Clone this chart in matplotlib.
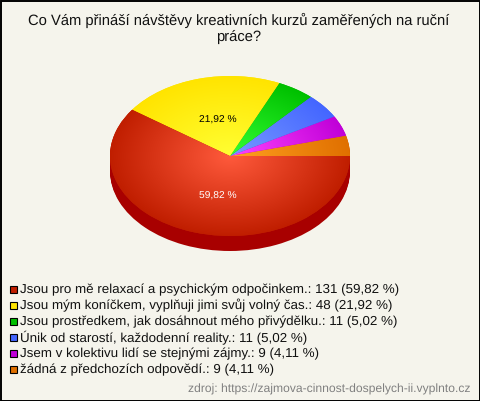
import numpy as np
import matplotlib
matplotlib.use("Agg")
import matplotlib.pyplot as plt
from matplotlib.patches import Rectangle

plt.rcParams['font.family'] = ['Liberation Sans', 'DejaVu Sans']
plt.rcParams['text.hinting'] = 'no_hinting'
plt.rcParams['text.hinting_factor'] = 8

W, H = 480, 401
BG = "#f5f4ec"

title_lines = ["Co Vám přináší návštěvy kreativních kurzů zaměřených na ruční", "práce?"]
source = "zdroj: https://zajmova-cinnost-dospelych-ii.vyplnto.cz"

answers = ["Jsou pro mě relaxací a psychickým odpočinkem",
           "Jsou mým koníčkem, vyplňuji jimi svůj volný čas",
           "Jsou prostředkem, jak dosáhnout mého přivýdělku",
           "Únik od starostí, každodenní reality",
           "Jsem v kolektivu lidí se stejnými zájmy",
           "žádná z předchozích odpovědí"]
counts = [131, 48, 11, 11, 9, 9]
percents = ["59,82", "21,92", "5,02", "5,02", "4,11", "4,11"]

# edge and centre colours of each slice
edge_cols = ["#c01e00", "#ffe400", "#00c000", "#4466ff", "#c000d8", "#e07000"]
mid_cols = ["#ff5a3c", "#ffff33", "#33ff33", "#7799ff", "#ff44ff", "#ffa020"]
legend_cols = ["#c01e00", "#ffe400", "#00c000", "#4466ff", "#c000d8", "#e07000"]
side_col = "#a80000"

fig = plt.figure(figsize=(W / 100, H / 100), dpi=100, facecolor=BG)


def px_axes(cx, cy, rx, ry):
    return [(cx - rx) / W, 1 - (cy + ry) / H, 2 * rx / W, 2 * ry / H]


# dark side of the pie, one ellipse per pixel of depth
depth = 15
for d in range(depth, 0, -1):
    ax_s = fig.add_axes(px_axes(230, 156 + d, 120, 80))
    ax_s.pie([1], colors=[side_col], radius=1, wedgeprops=dict(linewidth=0))
    ax_s.set_aspect("auto")
    ax_s.set_xlim(-1, 1)
    ax_s.set_ylim(-1, 1)

ax = fig.add_axes(px_axes(230, 156, 120, 80))
# pie goes counterclockwise from the east, last answer first
wedges, _ = ax.pie(counts[::-1], colors=edge_cols[::-1], startangle=0,
                   counterclock=True, radius=1, wedgeprops=dict(linewidth=0))
ax.set_aspect("auto")
ax.set_xlim(-1, 1)
ax.set_ylim(-1, 1)

gx, gy = np.meshgrid(np.linspace(-1, 1, 300), np.linspace(-1, 1, 300))
gr = np.clip(np.hypot(gx, gy), 0, 1)[..., None]
for w, c1, c2 in zip(wedges, mid_cols[::-1], edge_cols[::-1]):
    a = np.array(matplotlib.colors.to_rgb(c1))
    b = np.array(matplotlib.colors.to_rgb(c2))
    img = a + (b - a) * gr
    im = ax.imshow(img, extent=[-1, 1, -1, 1], origin="lower", aspect="auto",
                   interpolation="bilinear", zorder=2)
    im.set_clip_path(w)

# everything else is placed in pixels
over = fig.add_axes([0, 0, 1, 1])
over.set_xlim(0, W)
over.set_ylim(H, 0)
over.axis("off")

over.text(218, 123, percents[1] + " %", color="black", fontsize=7.4, ha="center", va="baseline")
over.text(218, 199, percents[0] + " %", color="white", fontsize=7.4, ha="center", va="baseline")

for i, line in enumerate(title_lines):
    over.text(239, 25 + i * 16, line, fontsize=10.65, color="#111111", ha="center", va="baseline")

for i in range(len(answers)):
    y = 289 + i * 16
    over.add_patch(Rectangle((9.5, y - 3.5), 7, 7, facecolor=legend_cols[i],
                             edgecolor="black", linewidth=0.8))
    over.text(20, y + 4.5, f"{answers[i]}.: {counts[i]} ({percents[i]} %)", fontsize=9.6,
              color="#111111", va="baseline", ha="left")

over.text(470, 392.5, source, fontsize=8.7, color="#808080", ha="right", va="baseline")

over.add_patch(Rectangle((0.5, 0.5), W - 1, H - 1, fill=False, edgecolor="black", linewidth=1.4))

fig.savefig("out.png", dpi=100, facecolor=BG)
